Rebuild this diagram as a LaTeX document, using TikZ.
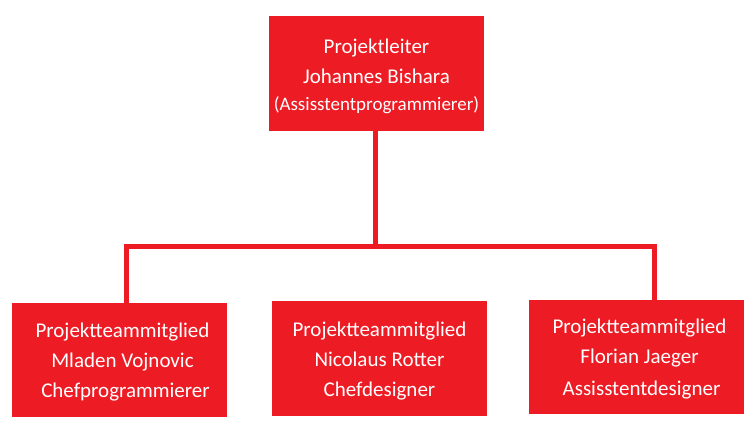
\documentclass[tikz,border=0pt]{standalone}
\usepackage{fontspec}
\setmainfont{Carlito}
\definecolor{boxred}{HTML}{ED1C24}
\tikzset{
  orgbox/.style={fill=boxred, draw=none, minimum width=215pt, minimum height=115pt,
    inner sep=0pt, text=white, align=center, font=\fontsize{21}{30}\selectfont},
  conn/.style={draw=boxred, line width=5pt}
}
\begin{document}
\begin{tikzpicture}[x=1pt,y=-1pt]
\useasboundingbox (0,0) rectangle (756,430);
\node[orgbox] (top) at (376.5,73.5) {\rule{0pt}{21pt}Projektleiter\\Johannes Bishara\\[-3pt]{\fontsize{19}{27}\selectfont (Assisstentprogrammierer)}};
\node[orgbox, minimum height=114pt] (left) at (119.5,360) {\rule{0pt}{19pt}\hspace*{6pt}Projektteammitglied\\\hspace*{6pt}Mladen Vojnovic\\\hspace*{12pt}Chefprogrammierer};
\node[orgbox] (mid) at (379.5,359) {\rule{0pt}{19pt}Projektteammitglied\\Nicolaus Rotter\\Chefdesigner};
\node[orgbox, minimum height=114pt] (right) at (636.5,357) {\rule{0pt}{19pt}\hspace*{6pt}Projektteammitglied\\\hspace*{6pt}Florian Jaeger\\[2pt]\hspace*{10pt}Assisstentdesigner};
\coordinate (busM) at (375.5,247);
\coordinate (busL) at (126.5,247);
\coordinate (busR) at (654.5,247);
\draw[conn] (top.south -| busM) -- (busM);
\draw[conn] (left.north -| busL) -- (busL) -- (busR) -- (right.north -| busR);
\end{tikzpicture}
\end{document}
